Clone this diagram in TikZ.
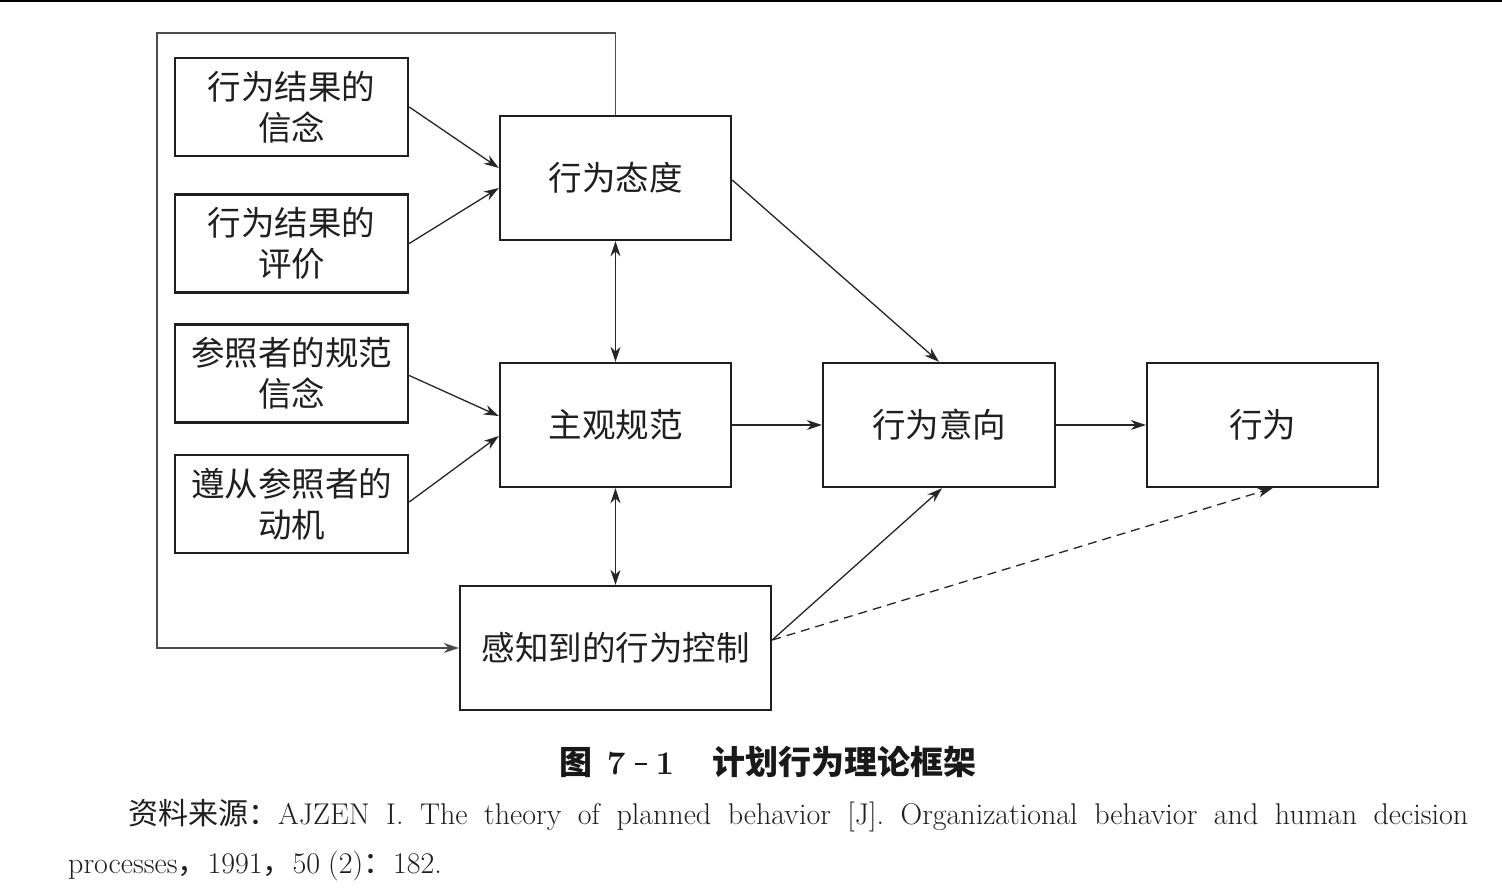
\documentclass[tikz,border=0pt]{standalone}
\usepackage{fontspec}
\newfontfamily\cjk{Noto Sans CJK SC}
\usetikzlibrary{arrows.meta}
\tikzset{
  box/.style={draw=black!88, line width=2.4pt, minimum width=233pt, minimum height=98pt, inner sep=0pt, align=center, font=\cjk\fontsize{33.5}{41}\selectfont, text=black!88},
  bigbox/.style={box, minimum height=124pt},
  conn/.style={draw=black!85, line width=1.3pt, -{Stealth[length=15pt,width=10pt]}},
  dconn/.style={conn, {Stealth[length=15pt,width=10pt]}-{Stealth[length=15pt,width=10pt]}},
  fb/.style={draw=black!70, line width=1.6pt, -{Stealth[length=15pt,width=10pt]}},
}
\begin{document}
\begin{tikzpicture}[x=1pt,y=-1pt]
\useasboundingbox (0,0) rectangle (1502,895);
\fill[white] (0,0) rectangle (1502,895);
\draw[line width=2.5pt] (0,1) -- (1502,1);

\node[box] (b1) at (291.5,107) {行为结果的\\信念};
\node[box] (b2) at (291.5,243.5) {行为结果的\\评价};
\node[box] (b3) at (291.5,373.5) {参照者的规范\\信念};
\node[box] (b4) at (291.5,504) {遵从参照者的\\动机};
\node[bigbox, minimum width=231pt] (a) at (615.5,178) {行为态度};
\node[bigbox, minimum width=231pt] (s) at (615.5,425) {主观规范};
\node[bigbox, minimum width=311pt] (p) at (615.5,648) {感知到的行为控制};
\node[bigbox, minimum width=232pt] (i) at (939,425) {行为意向};
\node[bigbox, minimum width=231pt] (bh) at (1262.5,425) {行为};

\coordinate (c1) at (157,33);
\coordinate (c2) at (157,648);
\draw[fb] (a.north) |- (c1) -- (c2) -- (p.west);

\draw[conn] (b1.east) -- ([yshift=10pt]a.west);
\draw[conn] (b2.east) -- ([yshift=-10pt]a.west);
\draw[conn] ([yshift=-2pt]b3.east) -- ([yshift=9pt]s.west);
\draw[conn] ([yshift=2pt]b4.east) -- ([yshift=-11pt]s.west);
\draw[dconn] (a.south) -- (s.north);
\draw[dconn] (s.south) -- (p.north);
\draw[conn] ([yshift=-2pt]a.east) -- (i.north);
\draw[conn] (s.east) -- (i.west);
\draw[conn] (i.east) -- (bh.west);
\draw[conn] ([yshift=8pt]p.east) -- ([xshift=3pt]i.south);
\draw[conn, dashed, dash pattern=on 9pt off 6pt] ([yshift=8pt]p.east) -- ([xshift=10pt]bh.south);

\node[font=\fontsize{33}{38}\selectfont, text=black!90] (cap) at (768,762) {{\cjk\bfseries 图}\hspace{14pt}\textbf{7}\hspace{9pt}\raisebox{10pt}{\rule{12pt}{2pt}}\hspace{9pt}\textbf{1}\hspace{38pt}{\cjk\bfseries 计划行为理论框架}};
\node[anchor=base west, inner sep=0pt, font=\fontsize{30}{34}\selectfont, text=black!88] (src1) at (128,824) {\makebox[1340pt][s]{{\cjk 资料来源：}AJZEN I. The theory of planned behavior [J]. Organizational behavior and human decision}};
\node[anchor=base west, inner sep=0pt, font=\fontsize{30}{34}\selectfont, text=black!88] (src2) at (68,873) {processes{\cjk ，}1991{\cjk ，}50\hspace{8pt}(2){\cjk ：}182.};
\end{tikzpicture}
\end{document}
